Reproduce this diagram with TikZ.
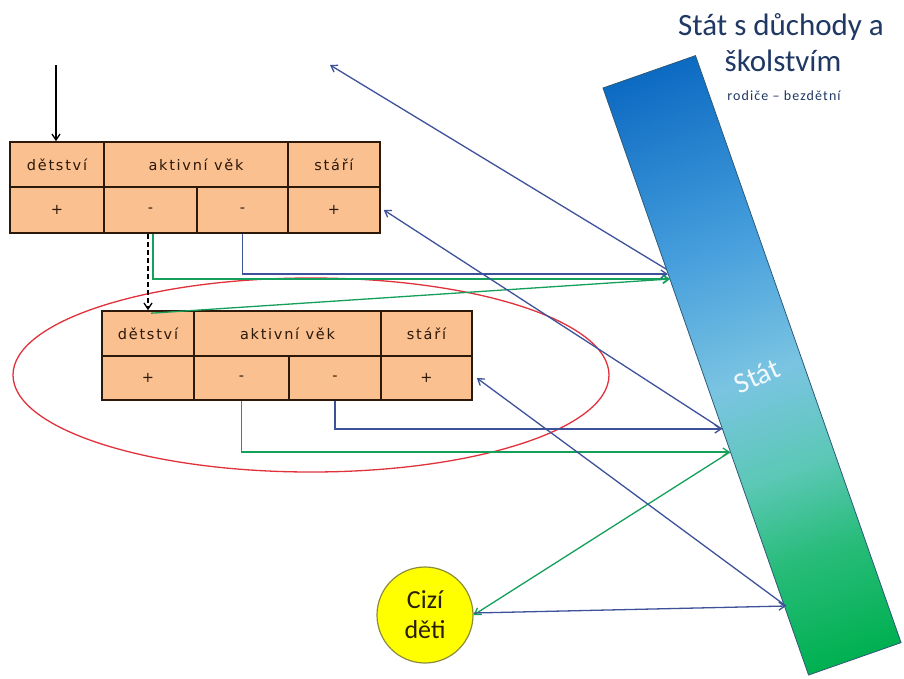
\documentclass[tikz,border=0pt]{standalone}
\usepackage{fontspec}
\setmainfont{Carlito}
\newfontfamily\tabfont[LetterSpace=12]{DejaVu Sans}
\newfontfamily\smallfont[LetterSpace=8]{Carlito}
\usetikzlibrary{arrows.meta,calc}
\definecolor{cellfill}{RGB}{250,192,144}
\definecolor{cellline}{RGB}{45,25,10}
\definecolor{navy}{RGB}{31,56,100}
\definecolor{lnblue}{RGB}{62,82,155}
\definecolor{lngreen}{RGB}{20,160,90}
\definecolor{barblue}{RGB}{12,106,194}
\definecolor{barlb}{RGB}{70,158,220}
\definecolor{barmid}{RGB}{122,196,226}
\definecolor{barteal}{RGB}{92,200,182}
\definecolor{barg2}{RGB}{40,188,122}
\definecolor{bargreen}{RGB}{0,176,80}
\definecolor{baredge}{RGB}{45,90,120}
\definecolor{ellred}{RGB}{225,50,60}
\definecolor{cyellow}{RGB}{255,255,0}
\pgfdeclareverticalshading{barshade}{100bp}{color(0bp)=(bargreen); color(25bp)=(bargreen); color(34bp)=(barg2); color(41bp)=(barteal); color(49bp)=(barmid); color(60bp)=(barlb); color(75bp)=(barblue); color(100bp)=(barblue)}
\newcommand\mkcell[6]{\node[cell, minimum width={#4-#2}, minimum height={#5-#3}] (#1) at ({(#2+#4)/2},{(#3+#5)/2}) {#6};}
\begin{document}
\begin{tikzpicture}[x=1pt,y=-1pt,
  cell/.style={draw=cellline, fill=cellfill, line width=1.6pt, inner sep=0pt,
    font=\tabfont\fontsize{14.5}{16}\selectfont, text=cellline},
  conn/.style={line width=1.3pt, -{Straight Barb[length=6pt,width=8pt]}},
  bconn/.style={conn, draw=lnblue},
  gconn/.style={conn, draw=lngreen},
  kconn/.style={line width=1.3pt, draw=black, -{Straight Barb[length=6pt,width=8pt]}},
  titletext/.style={text=navy, font=\fontsize{31}{34}\selectfont},
]
\useasboundingbox (0,0) rectangle (904,678);
\fill[white] (0,0) rectangle (904,678);

% the state bar
\begin{scope}[transform canvas={shift={(603,88)}, rotate=19.3}]
  \shade[shading=barshade, draw=baredge, line width=0.8pt] (0,0) rectangle (98,622);
\end{scope}
\node[text=white, opacity=0.9, rotate=24, font=\fontsize{29}{30}\selectfont] (statlabel) at (757,376) {Stát};

% title
\node[titletext] (title1) at (781,27) {Stát s důchody a};
\node[titletext] (title2) at (783,61) {školstvím};
\node[text=navy, font=\smallfont\fontsize{14}{16}\selectfont] (title3) at (784,96) {rodiče – bezdětní};

% red ellipse
\draw[ellred, line width=1.3pt] (311,375) ellipse [x radius=298, y radius=97];

% table 1
\mkcell{ta1}{10}{142}{104}{187}{dětství}
\mkcell{ta2}{104}{142}{288}{187}{aktivní věk}
\mkcell{ta3}{288}{142}{380}{187}{stáří}
\mkcell{tb1}{10}{187}{104}{233}{+}
\mkcell{tb2}{104}{187}{197}{233}{-}
\mkcell{tb3}{197}{187}{288}{233}{-}
\mkcell{tb4}{288}{187}{380}{233}{+}

% table 2
\mkcell{ua1}{102}{311}{194}{356}{dětství}
\mkcell{ua2}{194}{311}{381}{356}{aktivní věk}
\mkcell{ua3}{381}{311}{472}{356}{stáří}
\mkcell{ub1}{102}{356}{194}{400}{+}
\mkcell{ub2}{194}{356}{289}{400}{-}
\mkcell{ub3}{289}{356}{381}{400}{-}
\mkcell{ub4}{381}{356}{472}{400}{+}

% foreign children
\node[circle, fill=cyellow, draw={rgb,255:red,140;green,140;blue,60}, line width=1.2pt,
  minimum size=96pt, inner sep=0pt, align=center, text={rgb,255:red,40;green,30;blue,10},
  font=\fontsize{26}{30}\selectfont] (cizi) at (425,615) {Cizí\\děti};

% connection points
\coordinate (topin) at (56,65);
\coordinate (topout) at (330,65);
\coordinate (s1) at (666,269);
\coordinate (s2) at (668,274);
\coordinate (s3) at (670,279);
\coordinate (s4) at (722,429);
\coordinate (s5) at (730,452);
\coordinate (s6) at (786,606);

% connectors
\draw[kconn] (topin) -- (topin |- ta1.north);
\draw[kconn, dash pattern=on 5pt off 3pt] (ua1.north |- tb2.south) -- (ua1.north);
\draw[gconn] ([xshift=5pt]ua1.north |- tb2.south) |- (s3);
\draw[bconn] (tb3.south) |- (s2);
\draw[gconn] ([xshift=3pt,yshift=-3pt]ua1.north) -- (s3);
\draw[bconn] (s1) -- (topout);
\draw[bconn] (s4) -- ([xshift=3pt]tb4.east);
\draw[bconn] (ub3.south) |- (s4);
\draw[gconn] (ub2.south) |- (s5);
\draw[gconn] (s5) -- (cizi.east);
\draw[bconn] (s6) -- ([xshift=4pt]ub4.east);
\draw[bconn] ([yshift=2pt]cizi.east) -- (s6);
\end{tikzpicture}
\end{document}
